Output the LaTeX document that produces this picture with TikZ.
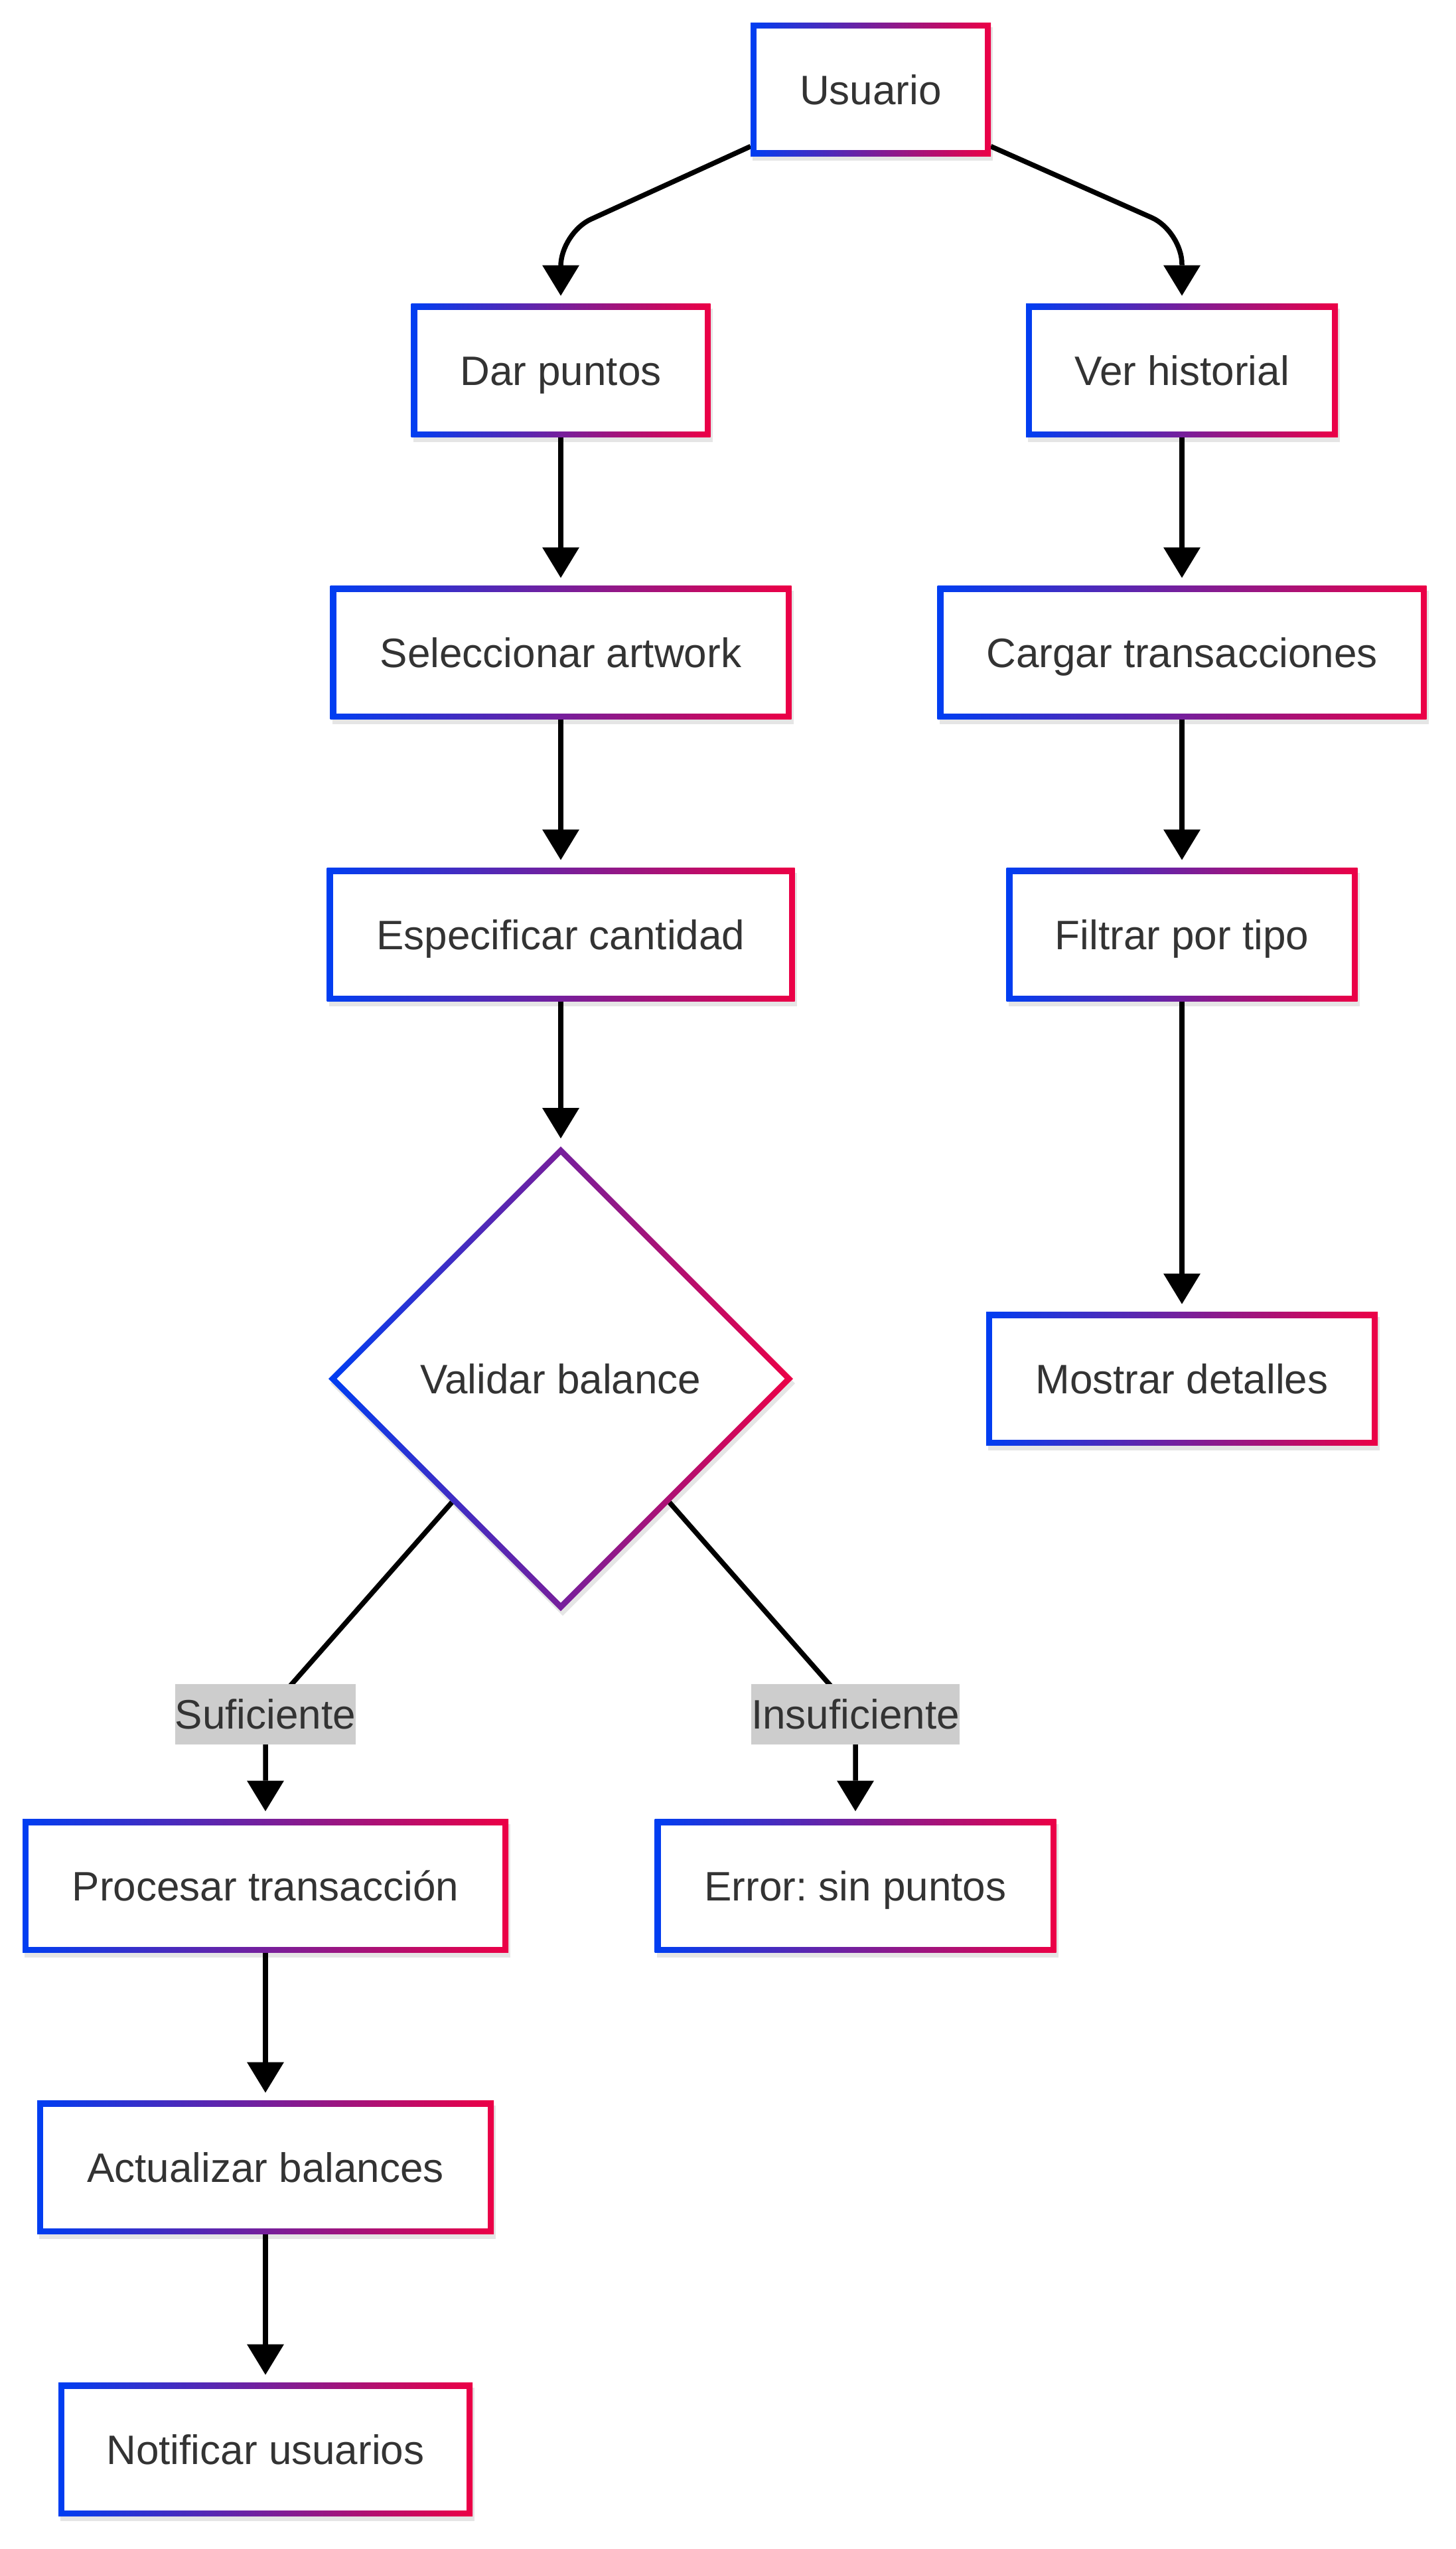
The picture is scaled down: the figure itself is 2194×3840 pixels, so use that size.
\documentclass[tikz,border=0pt]{standalone}
\usepackage{fontspec}
\setmainfont{Liberation Sans}
\frenchspacing
\usetikzlibrary{arrows.meta,shapes.geometric,shadows,calc}
\definecolor{gl}{RGB}{0,62,242}
\definecolor{gr}{RGB}{236,0,70}
\definecolor{txt}{RGB}{51,51,51}
\definecolor{lblbg}{RGB}{205,205,205}
\pgfdeclarelayer{bg}
\pgfdeclarelayer{edges}
\pgfsetlayers{bg,edges,main}
\newcommand{\fsz}{\fontsize{62}{74}\selectfont}
\tikzset{
  box/.style={rectangle, minimum height=201pt, inner sep=0pt, outer sep=0pt,
    text height=44.5pt, text depth=0pt,
    left color=gl, right color=gr, text=txt, font=\fsz,
    drop shadow={shadow xshift=3pt, shadow yshift=-7pt, opacity=0.10, fill=black},
    path picture={\fill[white] ([xshift=9pt,yshift=9pt]path picture bounding box.south west)
      rectangle ([xshift=-9pt,yshift=-9pt]path picture bounding box.north east);}},
  dia/.style={diamond, shape aspect=1, minimum width=700pt, minimum height=700pt,
    inner sep=0pt, outer sep=0pt, text height=44.5pt, text depth=0pt,
    left color=gl, right color=gr, text=txt, font=\fsz,
    drop shadow={shadow xshift=3pt, shadow yshift=-7pt, opacity=0.10, fill=black},
    path picture={\fill[white] ($(path picture bounding box.north)+(0,-12.7pt)$)
      -- ($(path picture bounding box.east)+(-12.7pt,0)$)
      -- ($(path picture bounding box.south)+(0,12.7pt)$)
      -- ($(path picture bounding box.west)+(12.7pt,0)$) -- cycle;}},
  lbl/.style={rectangle, fill=lblbg, text=txt, font=\fsz, inner xsep=0pt, inner ysep=0pt,
    text height=44.5pt, text depth=0pt, minimum height=91pt},
  arr/.style={draw=black, line width=7.5pt,
    -{Triangle[length=46pt,width=56pt,line width=0pt]}, shorten >=12pt}
}
\begin{document}
\begin{tikzpicture}[x=1pt,y=-1pt]
\begin{pgfonlayer}{bg}
\fill[white] (0,0) rectangle (2194,3840);
\end{pgfonlayer}
\useasboundingbox (0,0) rectangle (2194,3840);
\node[box, minimum width=362pt] (usu) at (1312,135) {Usuario};
\node[box, minimum width=451pt] (dar) at (845,558) {Dar puntos};
\node[box, minimum width=470pt] (ver) at (1781,558) {Ver historial};
\node[box, minimum width=695pt] (sel) at (845,983) {Seleccionar artwork};
\node[box, minimum width=737pt] (car) at (1781,983) {Cargar transacciones};
\node[box, minimum width=705pt] (esp) at (845,1408) {Especificar cantidad};
\node[box, minimum width=529pt] (fil) at (1781,1408) {Filtrar por tipo};
\node[dia] (val) at (845,2077) {Validar balance};
\node[box, minimum width=590pt] (mos) at (1781,2077) {Mostrar detalles};
\node[box, minimum width=732pt] (pro) at (400,2841) {Procesar transacción};
\node[box, minimum width=605pt] (err) at (1289,2841) {Error: sin puntos};
\node[box, minimum width=688pt] (act) at (400,3265) {Actualizar balances};
\node[box, minimum width=624pt] (noti) at (400,3690) {Notificar usuarios};
\node[lbl] (lsuf) at (400,2582) {Suficiente};
\node[lbl] (lins) at (1289,2582) {Insuficiente};
\coordinate (c1) at (845,351);
\coordinate (c2) at (1781,348);
\begin{pgfonlayer}{edges}
\draw[arr, rounded corners=50pt] ([yshift=15pt]usu.south west) -- (c1) -- (dar);
\draw[arr, rounded corners=50pt] ([yshift=15pt]usu.south east) -- (c2) -- (ver);
\draw[arr] (dar) -- (sel);
\draw[arr] (sel) -- (esp);
\draw[arr] (esp) -- (val);
\draw[arr] (ver) -- (car);
\draw[arr] (car) -- (fil);
\draw[arr] (fil) -- (mos);
\draw[arr] (val) -- (lsuf.center) -- (pro);
\draw[arr] (val) -- (lins.center) -- (err);
\draw[arr] (pro) -- (act);
\draw[arr] (act) -- (noti);
\end{pgfonlayer}
\end{tikzpicture}
\end{document}
